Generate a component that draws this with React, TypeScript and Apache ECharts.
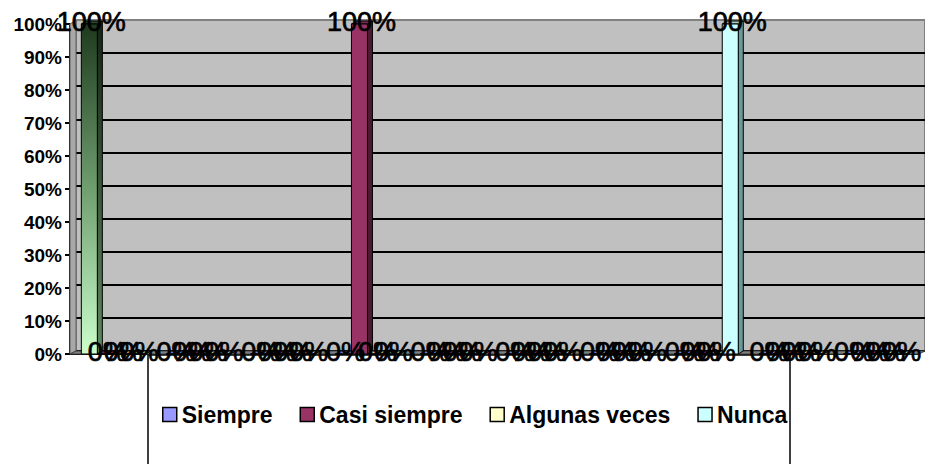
import { useEffect, useRef } from "react";
import * as echarts from "echarts";

const categories = ["1", "2", "3", "4", "5", "6", "7", "8", "9", "10"];
const seriesNames = ["Siempre", "Casi siempre", "Algunas veces", "Nunca"];
const siempre = [100, 0, 0, 0, 0, 0, 0, 0, 0, 0];
const casiSiempre = [0, 0, 0, 100, 0, 0, 0, 0, 0, 0];
const algunasVeces = [0, 0, 0, 0, 0, 0, 0, 0, 0, 0];
const nunca = [0, 0, 0, 0, 0, 0, 0, 100, 0, 0];
const seriesValues = [siempre, casiSiempre, algunasVeces, nunca];

const FRONT = ["#9999ff", "#993366", "#ffffcc", "#ccffff"];
const SIDE = ["#5c5c99", "#4d1a33", "#99997a", "#6b9999"];
const TOP = ["#7a7acc", "#7a2952", "#cccca3", "#a3cccc"];
const DX = 5;
const DY = 3;
const GAP = 0.244;
const FONT = '"Liberation Sans", Arial, sans-serif';

function geom(api: any, s: number) {
  const ci = api.value(0);
  const v = api.value(1);
  const b = api.coord([ci, 0]);
  const t = api.coord([ci, v]);
  const band = api.size([1, 0])[0];
  const gw = band * (1 - GAP);
  const w = gw / 4;
  const x = b[0] - gw / 2 + s * w;
  return { ci, v, x, w, yb: b[1], yt: t[1] };
}

export default function App() {
  const ref = useRef<HTMLDivElement>(null);
  useEffect(() => {
    if (!ref.current) return;
    const chart = echarts.init(ref.current, undefined, { renderer: "svg" });
    const gradFront = new echarts.graphic.LinearGradient(0, 0, 0, 1, [
      { offset: 0, color: "#1e3a1e" },
      { offset: 0.5, color: "#6f9e6f" },
      { offset: 1, color: "#ccffcc" },
    ]);
    const gradSide = new echarts.graphic.LinearGradient(0, 0, 0, 1, [
      { offset: 0, color: "#142414" },
      { offset: 1, color: "#5f8a5f" },
    ]);

    const barSeries = seriesNames.map((name, s) => ({
      type: "custom",
      name,
      xAxisIndex: 1,
      yAxisIndex: 1,
      z: 5,
      itemStyle: { color: FRONT[s] },
      data: seriesValues[s].map((v, i) => [i, v]),
      encode: { x: 0, y: 1 },
      renderItem: (_p: any, api: any) => {
        const g = geom(api, s);
        const special = s === 0 && g.ci === 0;
        const front = special ? gradFront : FRONT[s];
        const side = special ? gradSide : SIDE[s];
        const top = special ? "#2a4a2a" : TOP[s];
        const { x, w, yb, yt } = g;
        return {
          type: "group",
          children: [
            {
              type: "polygon",
              shape: { points: [[x + w, yt], [x + w + DX, yt - DY], [x + w + DX, yb - DY], [x + w, yb]] },
              style: { fill: side, stroke: "#000", lineWidth: 1 },
            },
            {
              type: "polygon",
              shape: { points: [[x, yt], [x + DX, yt - DY], [x + w + DX, yt - DY], [x + w, yt]] },
              style: { fill: top, stroke: "#000", lineWidth: 1 },
            },
            {
              type: "rect",
              shape: { x, y: yt, width: w, height: yb - yt },
              style: { fill: front, stroke: "#000", lineWidth: 1 },
            },
          ],
        };
      },
    }));

    const labelSeries = seriesNames.map((name, s) => ({
      type: "custom",
      name: name + " etiqueta",
      xAxisIndex: 1,
      yAxisIndex: 1,
      z: 10,
      silent: true,
      data: seriesValues[s].map((v, i) => [i, v]),
      encode: { x: 0, y: 1 },
      renderItem: (_p: any, api: any) => {
        const g = geom(api, s);
        return {
          type: "text",
          x: g.x + g.w / 2 + 2,
          y: g.yt - 2,
          style: {
            text: g.v + "%",
            fill: "#000",
            stroke: "#000",
            lineWidth: 0.7,
            fontSize: 27,
            fontFamily: FONT,
            align: "center",
            verticalAlign: "middle",
          },
        };
      },
    }));

    const splitColors = [...Array(10).fill("#000000"), "#808080"];

    chart.setOption({
      animation: false,
      backgroundColor: "#ffffff",
      grid: [
        {
          left: 76,
          right: 0,
          top: 20,
          bottom: 113,
          show: true,
          backgroundColor: "#c0c0c0",
          borderColor: "#808080",
          borderWidth: 2,
        },
        { left: 71, right: 7, top: 24, bottom: 110 },
      ],
      xAxis: [
        { type: "category", gridIndex: 0, data: categories, show: false },
        {
          type: "category",
          gridIndex: 1,
          data: categories,
          axisLine: { show: true, lineStyle: { color: "#000", width: 2 } },
          axisTick: { show: false },
          axisLabel: { show: false },
        },
      ],
      yAxis: [
        {
          type: "value",
          gridIndex: 0,
          min: 0,
          max: 100,
          interval: 10,
          axisLine: { show: false },
          axisTick: { show: false },
          axisLabel: { show: false },
          splitLine: { show: true, lineStyle: { color: splitColors, width: 2 } },
        },
        {
          type: "value",
          gridIndex: 1,
          min: 0,
          max: 100,
          interval: 10,
          offset: 1,
          axisLine: { show: true, lineStyle: { color: "#000", width: 2 } },
          axisTick: { show: true, inside: false, length: 5, lineStyle: { color: "#000", width: 2 } },
          axisLabel: {
            formatter: "{value}%",
            color: "#000",
            fontSize: 19,
            fontWeight: "bold",
            fontFamily: FONT,
            margin: 8,
          },
          splitLine: { show: false },
        },
      ],
      legend: {
        data: seriesNames,
        left: 157,
        top: 398,
        orient: "horizontal",
        icon: "rect",
        itemWidth: 14,
        itemHeight: 14,
        itemGap: 27,
        itemStyle: { borderColor: "#000", borderWidth: 1.5 },
        textStyle: { color: "#000", fontSize: 23, fontWeight: "bold", fontFamily: FONT },
      },
      graphic: [
        {
          type: "rect",
          z: 0,
          shape: { x: 148, y: 355, width: 642, height: 130 },
          style: { fill: "#ffffff", stroke: "#000", lineWidth: 1.5 },
        },
        {
          type: "polygon",
          z: 1,
          shape: { points: [[70, 24], [76, 20], [76, 351], [70, 354]] },
          style: { fill: "#a8a8a8", stroke: "#606060", lineWidth: 1 },
        },
        {
          type: "polygon",
          z: 1,
          shape: { points: [[70, 354], [76, 351], [925, 351], [919, 354]] },
          style: { fill: "#808080", stroke: "#404040", lineWidth: 1 },
        },
      ],
      series: [...barSeries, ...labelSeries],
    });
    return () => chart.dispose();
  }, []);
  return (
    <div
      ref={ref}
      style={{ position: "fixed", left: 0, top: 0, width: 925, height: 464 }}
    />
  );
}
